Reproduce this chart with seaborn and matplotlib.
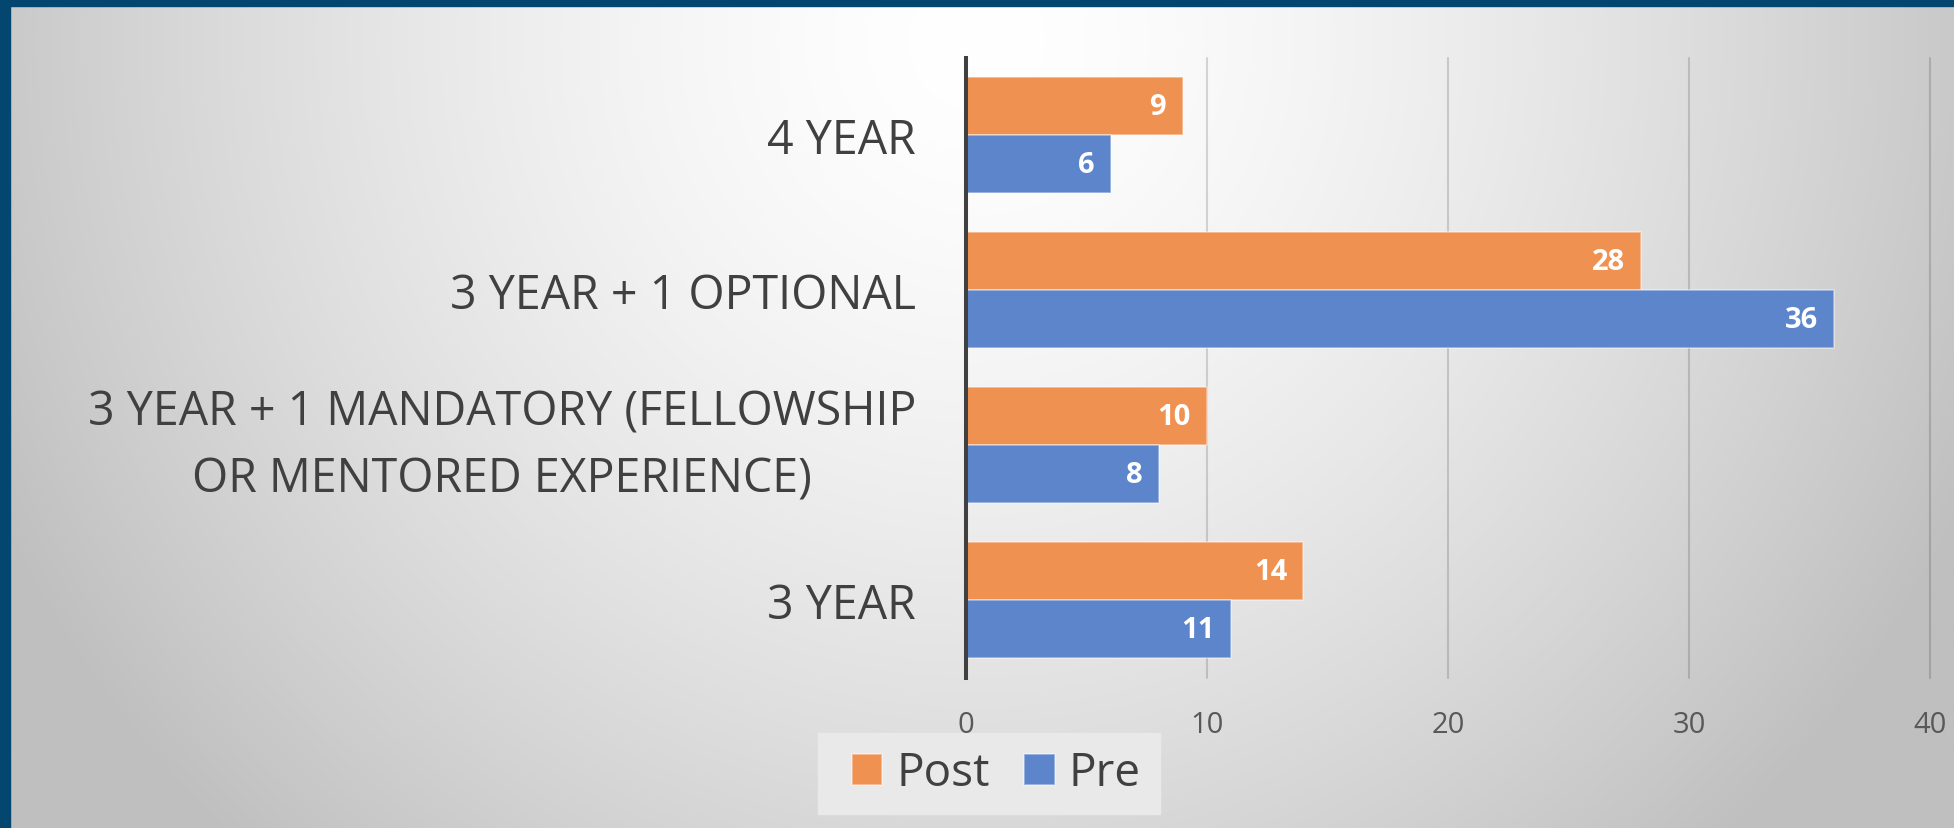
import numpy as np
import pandas as pd
import matplotlib
matplotlib.use("Agg")
import matplotlib.pyplot as plt
from matplotlib.patches import Rectangle
import seaborn as sns

# ---- data ----
categories = ["4 YEAR", "3 YEAR + 1 OPTIONAL",
              "3 YEAR + 1 MANDATORY (FELLOWSHIP\nOR MENTORED EXPERIENCE)", "3 YEAR"]
post_values = [9, 28, 10, 14]
pre_values = [6, 36, 8, 11]
series_names = ["Post", "Pre"]
x_ticks = [0, 10, 20, 30, 40]

df = pd.DataFrame({
    "category": categories * 2,
    "value": post_values + pre_values,
    "series": ["Post"] * len(categories) + ["Pre"] * len(categories),
})

sns.set_theme(style="white")
plt.rcParams["font.family"] = ["Open Sans", "DejaVu Sans"]

W, H = 1954, 829
fig = plt.figure(figsize=(W / 100, H / 100), dpi=100)

# ---- background radial gradient ----
bg = fig.add_axes([0, 0, 1, 1], zorder=-10)
yy, xx = np.mgrid[0:1:300j, 0:1:700j]
d = np.sqrt(((xx - 0.5) / 0.575) ** 2 + ((yy - 0.05) / 1.37) ** 2)
drop = np.minimum(54 * (d / 0.87) ** 1.5, 64)
gray = (255 - drop) / 255.0
bg.imshow(np.dstack([gray, gray, gray]), extent=[0, 1, 0, 1], aspect="auto",
          origin="upper", interpolation="bilinear")
bg.set_xlim(0, 1)
bg.set_ylim(0, 1)
bg.axis("off")

# blue frame (top and left)
fig.patches.append(Rectangle((0, 1 - 7 / H), 1, 7 / H, transform=fig.transFigure,
                             color="#03466f", zorder=-5))
fig.patches.append(Rectangle((0, 0), 10 / W, 1, transform=fig.transFigure,
                             color="#03466f", zorder=-5))
# legend background panel
fig.patches.append(Rectangle((818 / W, 1 - 815 / H), 342 / W, 81 / H,
                             transform=fig.transFigure, color="#e9e9e9", zorder=-4))

# ---- main axes ----
ax = fig.add_axes([966 / W, 1 - 678.6 / H, 964 / W, 620 / H])
ax.set_facecolor("none")

palette = {"Post": "#EF9150", "Pre": "#5C85CB"}
sns.barplot(data=df, x="value", y="category", hue="series", hue_order=series_names,
            order=categories, orient="h", width=0.75, palette=palette, ax=ax,
            edgecolor=(1, 1, 1, 0.45), linewidth=1.2, saturation=1)

ax.set_xlim(0, 40)
ax.set_ylim(3.5, -0.5)
ax.set_xticks(x_ticks)
ax.set_xlabel("")
ax.set_ylabel("")
ax.set_axisbelow(True)
ax.xaxis.grid(True, color="black", alpha=0.15, lw=1.5)
for gl in ax.get_xgridlines():
    gl.set_clip_on(False)
for s in ["top", "right", "bottom"]:
    ax.spines[s].set_visible(False)
ax.spines["left"].set_color("#404040")
ax.spines["left"].set_linewidth(2.9)
ax.spines["left"].set_zorder(5)

ax.tick_params(axis="y", length=0, pad=36, labelsize=33.5, labelcolor="#404040")
ax.tick_params(axis="x", length=0, pad=23, labelsize=21, labelcolor="#595959")
for t in ax.get_yticklabels():
    t.set_multialignment("center")
    if "\n" in t.get_text():
        t.set_linespacing(1.55)
        t.set_verticalalignment("center")

# bar value labels
for cont in ax.containers:
    for bar in cont:
        w = bar.get_width()
        yc = bar.get_y() + bar.get_height() / 2
        ax.annotate(f"{w:g}", xy=(w, yc), xytext=(-11.5, 0), textcoords="offset points",
                    ha="right", va="center", color="white", fontsize=21,
                    fontweight="bold")

# legend
handles, labels = ax.get_legend_handles_labels()
if ax.legend_ is not None:
    ax.legend_.remove()
leg = ax.legend(handles, labels, loc="center",
                bbox_to_anchor=(996 / W, 1 - 774.5 / H), bbox_transform=fig.transFigure,
                ncol=2, frameon=False, fontsize=33, handlelength=0.67,
                handleheight=0.67, handletextpad=0.3, columnspacing=0.75,
                borderpad=0.3)
for t in leg.get_texts():
    t.set_color("#404040")

fig.savefig("out.png", dpi=100)
